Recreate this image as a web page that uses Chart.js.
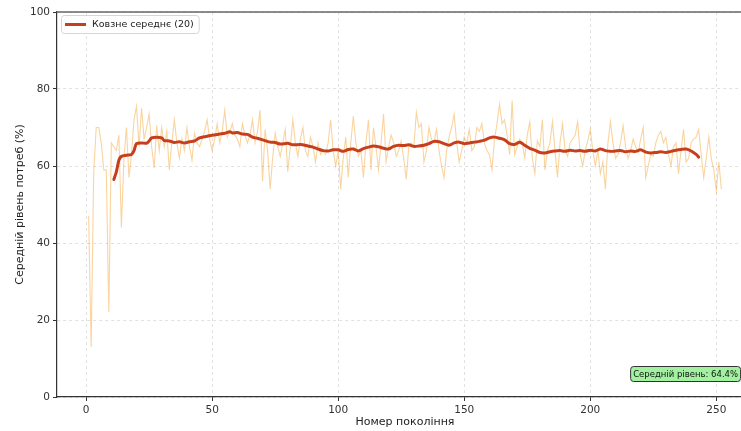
<!DOCTYPE html>
<html><head><meta charset="utf-8">
<script src="https://cdn.jsdelivr.net/npm/chart.js@4.4.1/dist/chart.umd.min.js"></script>
<style>
html,body{margin:0;padding:0;overflow:hidden;background:#fff;width:741px;height:431px}
#wrap{width:741px;height:431px;overflow:hidden;position:relative}
canvas{display:block}
</style></head>
<body><div id="wrap"><canvas id="c" width="753" height="431"></canvas></div>
<script>
// ---- data ----
const firstGeneration = 1;
const rawValues = [
 47,13,58,70,70,66,59,59,22,66, 65,64,68,44,62,70,57,63,72,75.5,
 65,75,67,70,73.5,65,59.5,70.5,64,70, 65,69,59,66,72,66,62,67,64,70,
 65,61.5,68.5,66,65,67,69,72,67,64, 67,71,66,69,74.5,67.5,69,71,68,67,
 65,71,68,66,68,72,66,69,74.5,56, 69.5,64,54,62,68.5,65,62.5,66,69.5,58.5,
 65,72,66,62.5,67,70,64,62.5,67.5,65, 61,66,63,64,63,66,72,64,60,64,
 54,62,67.5,57,66,73,66,62.5,64,57, 66,72,59,70,65,59,66,73.5,61,65,
 68,66,62.5,64,66.5,62,56.5,65,66,65, 74,70,71,61,64,70,67,66,69.5,64,
 60,57,64,67.5,70,73.5,66,61,64,67.5, 66,69.5,64,65,70,69,71,66,64,63,
 59,67,71,76,71,72,68,63,77,63, 65,67,66,62,68,71.5,62,58,66.5,65,
 72,59,64,66,71.5,64,57,66,71,64, 62.5,66,67,68,71.5,63,60,64,66.5,69.5,
 64,60,64,58,61,54,66,71.5,66,62, 63,66,70.5,65,62,64,67,65,63.5,67,
 70,57,60,63,62.5,66,68,69,66,67.5, 63,60,65,66,58,64,69.5,61,62,66,
 67,67.5,69.5,63,57,62,67.5,62,59,53.5, 61,54
];
const maGenerations = [11,12,13,14,16,18,19,20,22,24,25,26,28,30,31,33,35,37,39,41,43,45,47,50,53,55,57,58,60,62,64,66,68,70,73,75,77,80,82,85,88,90,92,94,96,98,100,102,104,106,108,110,112,114,116,118,120,122,124,126,128,130,132,134,136,138,140,142,144,146,148,150,152,154,156,158,160,162,164,166,168,170,172,174,176,178,180,182,184,186,188,190,192,194,196,198,200,202,204,206,208,210,212,214,216,218,220,222,224,226,228,230,232,234,236,238,240,242,243];
const maValues = [56.5,58.5,61.5,62.5,62.8,63.0,64.0,65.8,66.0,65.9,66.5,67.3,67.5,67.3,66.6,66.5,66.1,66.3,66.0,66.3,66.5,67.3,67.6,68.0,68.3,68.5,68.9,68.6,68.7,68.3,68.2,67.5,67.2,66.8,66.2,66.1,65.7,65.9,65.5,65.6,65.2,64.9,64.4,64.0,63.9,64.2,64.2,63.8,64.3,64.4,63.9,64.5,64.9,65.2,65.0,64.6,64.4,65.1,65.4,65.3,65.5,65.1,65.2,65.4,65.8,66.4,66.3,65.8,65.4,66.0,66.2,65.8,66.0,66.2,66.4,66.7,67.3,67.5,67.2,66.8,65.8,65.6,66.2,65.4,64.6,64.1,63.5,63.4,63.7,63.9,64.0,63.8,64.1,63.9,64.0,63.8,64.1,63.9,64.4,64.0,63.8,63.9,64.0,63.7,63.9,63.8,64.2,63.6,63.4,63.5,63.7,63.5,63.8,64.1,64.3,64.4,63.9,63.0,62.3];
const xTickValues = [0,50,100,150,200,250];
const yTickValues = [0,20,40,60,80,100];
const meanLevel = 64.4;
const maLabel = 'Ковзне середнє (20)';
const xTitle = 'Номер покоління';
const yTitle = 'Середній рівень потреб (%)';

const rawPoints = rawValues.map((v, i) => ({x: firstGeneration + i, y: v}));
const maPoints = maValues.map((v, i) => ({x: maGenerations[i], y: v}));

const MA_COLOR = '#C73E1D';
const FONT = "'DejaVu Sans', sans-serif";

const overlay = {
  id: 'overlay',
  afterDraw(chart) {
    const ctx = chart.ctx, a = chart.chartArea;
    ctx.save();
    // top spine
    ctx.strokeStyle = '#666';
    ctx.lineWidth = 1.6;
    ctx.beginPath(); ctx.moveTo(a.left - 0.5, a.top); ctx.lineTo(a.right, a.top); ctx.stroke();
    // legend box
    ctx.font = '9.5px ' + FONT;
    const lw = ctx.measureText(maLabel).width + 36;
    const lx = 61, ly = 15, lh = 18;
    ctx.beginPath();
    ctx.roundRect(lx + 0.5, ly + 0.5, lw, lh, 3);
    ctx.fillStyle = 'rgba(255,255,255,0.85)'; ctx.fill();
    ctx.strokeStyle = '#d6d6d6'; ctx.lineWidth = 1; ctx.stroke();
    ctx.strokeStyle = MA_COLOR; ctx.lineWidth = 3;
    ctx.beginPath(); ctx.moveTo(65, ly + 9.5); ctx.lineTo(86, ly + 9.5); ctx.stroke();
    ctx.fillStyle = '#222'; ctx.textBaseline = 'middle'; ctx.textAlign = 'left';
    ctx.fillText(maLabel, 92, ly + 10);
    // mean annotation
    const txt = 'Середній рівень: ' + meanLevel.toFixed(1) + '%';
    ctx.font = '8.5px ' + FONT;
    const tw = ctx.measureText(txt).width;
    const bx1 = a.left + 0.98 * (a.right - a.left) + 1, by2 = 381;
    const bx0 = bx1 - tw - 5, by0 = 366;
    ctx.beginPath(); ctx.roundRect(bx0 + 0.5, by0 + 0.5, bx1 - bx0, by2 - by0, 3);
    ctx.fillStyle = 'rgba(144,238,144,0.85)'; ctx.fill();
    ctx.strokeStyle = '#333'; ctx.lineWidth = 1; ctx.stroke();
    ctx.fillStyle = '#111'; ctx.textAlign = 'left';
    ctx.fillText(txt, bx0 + 3, (by0 + by2) / 2 + 1);
    ctx.restore();
  }
};

new Chart(document.getElementById('c'), {
  type: 'line',
  data: {
    datasets: [
      {label: 'raw', data: rawPoints, borderColor: 'rgba(241,143,1,0.38)', borderWidth: 1.1, pointRadius: 0, tension: 0, order: 2},
      {label: maLabel, data: maPoints, borderColor: MA_COLOR, borderWidth: 3, pointRadius: 0, tension: 0.3, order: 1, borderCapStyle: 'round', borderJoinStyle: 'round'}
    ]
  },
  options: {
    responsive: false, animation: false, devicePixelRatio: 1,
    layout: {padding: {top: 12, right: 0, left: 0, bottom: 0}},
    plugins: {legend: {display: false}, tooltip: {enabled: false}},
    scales: {
      x: {
        type: 'linear', min: -11.55, max: 264.55,
        afterBuildTicks: s => { s.ticks = xTickValues.map(v => ({value: v})); },
        afterFit: s => { s.height = 34; },
        grid: {color: 'rgba(170,170,170,0.35)', tickColor: '#333', tickLength: 4, tickBorderDash: []},
        border: {display: true, color: '#333', width: 1.2, dash: [3, 3]},
        ticks: {color: '#333', font: {family: FONT, size: 10.5}, padding: 3, maxRotation: 0},
        title: {display: true, text: xTitle, color: '#222', font: {family: FONT, size: 11}, padding: {top: 0, bottom: 2}}
      },
      y: {
        min: 0, max: 100,
        afterBuildTicks: s => { s.ticks = yTickValues.map(v => ({value: v})); },
        afterFit: s => { s.width = 57; },
        grid: {color: 'rgba(170,170,170,0.35)', tickColor: '#333', tickLength: 4, tickBorderDash: []},
        border: {display: true, color: '#333', width: 1.2, dash: [3, 3]},
        ticks: {color: '#333', font: {family: FONT, size: 10.5}, padding: 3},
        title: {display: true, text: yTitle, color: '#222', font: {family: FONT, size: 11}, padding: {top: 14, bottom: 0}}
      }
    }
  },
  plugins: [overlay]
});
</script></body></html>
